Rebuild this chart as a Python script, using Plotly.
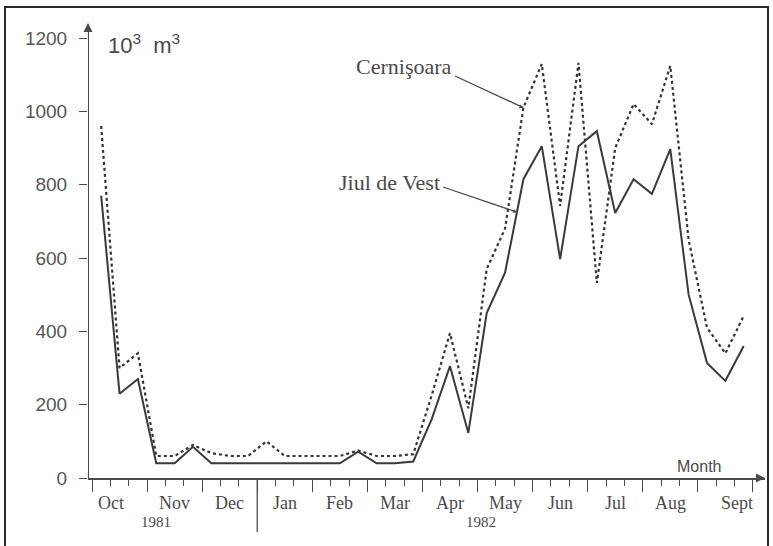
import plotly.graph_objects as go

# ---- data (10-day periods, Oct 1981 - Sept 1982) ----
months = ["Oct", "Nov", "Dec", "Jan", "Feb", "Mar", "Apr", "May", "Jun", "Jul", "Aug", "Sept"]
years = ["1981", "1982"]
year_pos = [3.5, 21.2]
yticks = [0, 200, 400, 600, 800, 1000, 1200]

jiul_de_vest = [770, 230, 270, 40, 40, 85, 40, 40, 40, 40, 40, 40, 40, 40, 72, 40, 40, 45,
                160, 305, 123, 450, 560, 815, 905, 597, 905, 946, 723, 815, 775, 897, 500, 314, 265, 360]
cernisoara = [960, 300, 340, 60, 60, 90, 68, 60, 60, 100, 60, 60, 60, 60, 75, 60, 60, 65,
              225, 395, 190, 570, 680, 1010, 1129, 742, 1132, 532, 900, 1020, 965, 1124, 650, 410, 340, 442]

decade_x = [i + 0.5 for i in range(len(jiul_de_vest))]

W, H = 773, 546
X0, X1 = -0.218, 36.66
Y0, Y1 = 0, 1241
GREY = "#4a4a4a"
SERIF = "Liberation Serif, Times New Roman, serif"
SANS = "Liberation Sans, Arial, sans-serif"

# leader-line targets for the series labels (data space)
cern_tip = (decade_x[23], cernisoara[23])
jiul_tip = (23.15, 725)
# leader-line tails (paper space)
cern_tail = (455 / W, 1 - 76 / H)
jiul_tail = (443 / W, 1 - 187 / H)

fig = go.Figure()
fig.add_trace(go.Scatter(x=decade_x, y=cernisoara, mode="lines", name="Cernişoara",
                         line=dict(color="#333333", width=2.2, dash="dot"), cliponaxis=False))
fig.add_trace(go.Scatter(x=decade_x, y=jiul_de_vest, mode="lines", name="Jiul de Vest",
                         line=dict(color="#3a3a3a", width=2), cliponaxis=False))
# axis arrowheads
fig.add_trace(go.Scatter(x=[X0, X1], y=[Y1, 0], mode="markers", hoverinfo="skip",
                         marker=dict(symbol=["arrow-up", "arrow-right"], size=9, color=GREY),
                         cliponaxis=False))
# leader arrowheads
fig.add_trace(go.Scatter(x=[cern_tip[0], jiul_tip[0]], y=[cern_tip[1], jiul_tip[1]], mode="markers",
                         hoverinfo="skip", cliponaxis=False,
                         marker=dict(symbol="arrow-right", size=4, color=GREY, angle=[20, 19])))

annotations = []
for m, name in enumerate(months):
    shift = -9 if name == "Oct" else (12 if name == "Sept" else 0)
    annotations.append(dict(x=3 * m + 1.5, y=1 - 503 / H, xref="x", yref="paper", text=name,
                            yanchor="middle", showarrow=False, xshift=shift,
                            font=dict(family=SERIF, size=18, color=GREY)))
for yr, xp in zip(years, year_pos):
    annotations.append(dict(x=xp, y=1 - 522 / H, xref="x", yref="paper", text=yr, yanchor="middle",
                            showarrow=False, font=dict(family=SERIF, size=15, color=GREY)))
annotations.append(dict(x=106 / W, y=1 - 44 / H, xref="paper", yref="paper", xanchor="left",
                        yanchor="middle", text="10<sup>3</sup>  m<sup>3</sup>", showarrow=False,
                        font=dict(family=SANS, size=22, color=GREY)))
annotations.append(dict(x=723 / W, y=1 - 466 / H, xref="paper", yref="paper", xanchor="right",
                        yanchor="middle", text="Month", showarrow=False,
                        font=dict(family=SANS, size=16, color=GREY)))
annotations.append(dict(x=404 / W, y=1 - 66 / H, xref="paper", yref="paper", text="Cernişoara",
                        yanchor="middle", showarrow=False, font=dict(family=SERIF, size=22, color=GREY)))
annotations.append(dict(x=389 / W, y=1 - 183 / H, xref="paper", yref="paper", text="Jiul de Vest",
                        yanchor="middle", showarrow=False, font=dict(family=SERIF, size=22, color=GREY)))

shapes = [
    # y axis line
    dict(type="line", xref="x", yref="y", x0=X0, x1=X0, y0=0, y1=Y1 - 15, line=dict(color=GREY, width=2)),
    # leader lines
    dict(type="line", xref="paper", yref="paper", x0=cern_tail[0], y0=cern_tail[1],
         x1=(92 + 18.36 * cern_tip[0]) / W, y1=1 - (478 - 0.3667 * cern_tip[1]) / H,
         line=dict(color=GREY, width=1.3)),
    dict(type="line", xref="paper", yref="paper", x0=jiul_tail[0], y0=jiul_tail[1],
         x1=(92 + 18.36 * jiul_tip[0]) / W, y1=1 - (478 - 0.3667 * jiul_tip[1]) / H,
         line=dict(color=GREY, width=1.3)),
    # year separator
    dict(type="line", xref="x", yref="paper", x0=9, x1=9, y0=1 - 478 / H, y1=1 - 532 / H,
         line=dict(color=GREY, width=1.3)),
    # picture frame
    dict(type="rect", xref="paper", yref="paper", x0=5 / W, x1=768 / W, y0=1 - 7 / H, y1=-0.05,
         line=dict(color="#2a2a2a", width=2)),
]

major = [3 * m for m in range(13)]
minor = [d for d in range(37) if d % 3 != 0]

fig.update_layout(
    width=W, height=H, margin=dict(l=0, r=0, t=0, b=0),
    paper_bgcolor="white", plot_bgcolor="white", showlegend=False,
    annotations=annotations, shapes=shapes,
    xaxis=dict(range=[X0, X1], domain=[88 / W, 765 / W], showgrid=False, zeroline=False,
               automargin=False, showline=True, linecolor=GREY, linewidth=2,
               tickmode="array", tickvals=major, ticks="outside", ticklen=12,
               tickwidth=1.3, tickcolor=GREY, showticklabels=False,
               minor=dict(tickmode="array", tickvals=minor, ticks="outside", ticklen=6,
                          tickwidth=1.3, tickcolor=GREY, showgrid=False)),
    yaxis=dict(range=[Y0, Y1], domain=[1 - 478 / H, 1 - 23 / H], showgrid=False, zeroline=False,
               automargin=False, showline=False, tickmode="array", tickvals=yticks, ticks="outside",
               ticklen=8, tickwidth=1.3, tickcolor=GREY, ticklabelstandoff=8,
               tickfont=dict(family=SANS, size=19, color="#555555")),
)

fig.write_html("out.html", config={"displayModeBar": False},
               post_script="document.body.style.margin='0';document.body.style.overflow='hidden';")
